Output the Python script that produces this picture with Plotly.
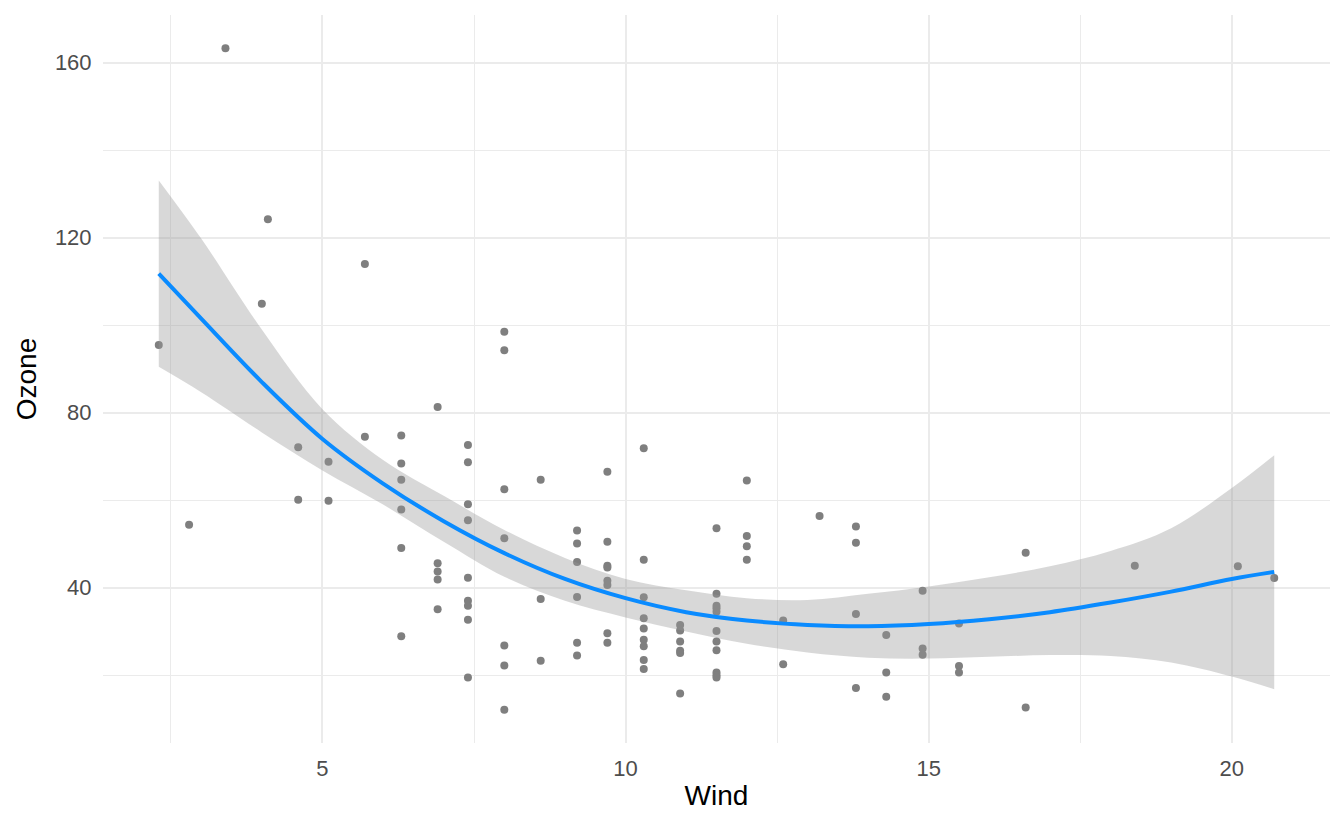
import plotly.graph_objects as go

# scatter points (Wind vs Ozone)
wind = [2.3, 2.8, 3.4, 4.0, 4.1, 4.6, 4.6, 5.1, 5.1, 5.7, 5.7,
        6.3, 6.3, 6.3, 6.3, 6.3, 6.3,
        6.9, 6.9, 6.9, 6.9, 6.9,
        7.4, 7.4, 7.4, 7.4, 7.4, 7.4, 7.4, 7.4, 7.4,
        8.0, 8.0, 8.0, 8.0, 8.0, 8.0, 8.0,
        8.6, 8.6, 8.6,
        9.2, 9.2, 9.2, 9.2, 9.2, 9.2,
        9.7, 9.7, 9.7, 9.7, 9.7, 9.7, 9.7, 9.7,
        10.3, 10.3, 10.3, 10.3, 10.3, 10.3, 10.3, 10.3, 10.3,
        10.9, 10.9, 10.9, 10.9, 10.9, 10.9,
        11.5, 11.5, 11.5, 11.5, 11.5, 11.5, 11.5, 11.5, 11.5, 11.5, 11.5,
        12.0, 12.0, 12.0, 12.0,
        12.6, 12.6, 13.2,
        13.8, 13.8, 13.8, 13.8,
        14.3, 14.3, 14.3,
        14.9, 14.9, 14.9,
        15.5, 15.5, 15.5,
        16.6, 16.6, 18.4, 20.1, 20.7]

ozone = [95.5, 54.4, 163.3, 104.9, 124.2, 72.1, 60.1, 68.8, 59.9, 114.0, 74.5,
         74.8, 68.4, 64.7, 57.9, 49.1, 28.9,
         81.3, 45.6, 43.7, 41.9, 35.1,
         72.6, 68.7, 59.1, 55.4, 42.3, 37.0, 35.9, 32.7, 19.5,
         98.5, 94.3, 62.5, 51.3, 26.8, 22.2, 12.1,
         64.7, 37.4, 23.3,
         53.1, 50.1, 45.9, 37.9, 27.4, 24.5,
         66.5, 50.5, 45.0, 44.6, 41.6, 40.6, 29.6, 27.4,
         71.9, 46.4, 37.8, 33.0, 30.7, 28.1, 26.6, 23.5, 21.4,
         31.5, 30.2, 27.7, 25.6, 25.1, 15.8,
         53.6, 38.6, 35.9, 35.3, 34.5, 30.1, 27.7, 25.7, 20.6, 20.0, 19.5,
         64.5, 51.8, 49.5, 46.4,
         32.5, 22.5, 56.4,
         54.0, 50.3, 34.0, 17.1,
         29.2, 20.6, 15.1,
         39.3, 26.1, 24.7,
         31.8, 22.1, 20.6,
         48.0, 12.6, 45.0, 44.9, 42.2]

# smoother curve and its confidence band, read at whole wind values
curve_x = [2.3, 3, 4, 5, 6, 7, 8, 9, 10, 11, 12, 13, 14, 15, 16, 17, 18, 19, 20, 20.7]
curve_fit = [111.8, 101.5, 87.0, 74.0, 63.8, 55.2, 47.9, 42.0, 37.6, 34.4,
             32.5, 31.5, 31.2, 31.7, 32.8, 34.4, 36.6, 39.1, 42.0, 43.6]
curve_upper = [133.1, 119.8, 99.0, 80.8, 69.2, 61.0, 53.2, 46.8, 42.0, 39.4,
               37.6, 37.2, 38.6, 40.3, 42.4, 44.9, 48.4, 53.6, 62.8, 70.3]
curve_lower = [90.5, 84.7, 75.5, 66.8, 59.0, 50.5, 42.5, 37.0, 33.2, 30.0,
               27.2, 25.2, 24.0, 23.8, 24.2, 24.6, 24.4, 22.9, 19.7, 16.8]

x_ticks = [5, 10, 15, 20]
y_ticks = [40, 80, 120, 160]

GRID = "#EBEBEB"
TICK_FONT = dict(family="Liberation Sans, Arial, sans-serif", size=22, color="#4D4D4D")
TITLE_FONT = dict(family="Liberation Sans, Arial, sans-serif", size=28, color="#000000")

fig = go.Figure()

fig.add_trace(go.Scatter(x=wind, y=ozone, mode="markers",
                         marker=dict(size=8, color="#7F7F7F", line=dict(width=0)),
                         showlegend=False, hoverinfo="x+y"))

fig.add_trace(go.Scatter(x=curve_x, y=curve_lower, mode="lines",
                         line=dict(width=0, shape="spline"),
                         showlegend=False, hoverinfo="skip"))
fig.add_trace(go.Scatter(x=curve_x, y=curve_upper, mode="lines",
                         line=dict(width=0, shape="spline"),
                         fill="tonexty", fillcolor="rgba(153,153,153,0.38)",
                         showlegend=False, hoverinfo="skip"))

fig.add_trace(go.Scatter(x=curve_x, y=curve_fit, mode="lines",
                         line=dict(width=4, color="#0A8BFF", shape="spline"),
                         showlegend=False))

# the page body keeps an 8px margin, so the figure is 16px smaller than the window
fig.update_layout(
    width=1328, height=814,
    margin=dict(l=95, r=6, t=7, b=79),
    plot_bgcolor="white", paper_bgcolor="white",
    xaxis=dict(range=[1.38, 21.62], tickvals=x_ticks, ticktext=[str(v) for v in x_ticks],
               showgrid=True, gridcolor=GRID, gridwidth=1.7, zeroline=False,
               showline=False, ticks="outside", ticklen=6, tickcolor="rgba(0,0,0,0)",
               tickfont=TICK_FONT, automargin=False,
               minor=dict(tickvals=[2.5, 7.5, 12.5, 17.5], showgrid=True,
                          gridcolor=GRID, gridwidth=0.9),
               title=dict(text="Wind", font=TITLE_FONT, standoff=4)),
    yaxis=dict(range=[4.5, 170.9], tickvals=y_ticks, ticktext=[str(v) for v in y_ticks],
               showgrid=True, gridcolor=GRID, gridwidth=1.7, zeroline=False,
               showline=False, ticks="outside", ticklen=6, tickcolor="rgba(0,0,0,0)",
               tickfont=TICK_FONT, automargin=False,
               minor=dict(tickvals=[20, 60, 100, 140], showgrid=True,
                          gridcolor=GRID, gridwidth=0.9),
               title=dict(text="Ozone", font=TITLE_FONT, standoff=10)),
)

fig.write_html("out.html")
